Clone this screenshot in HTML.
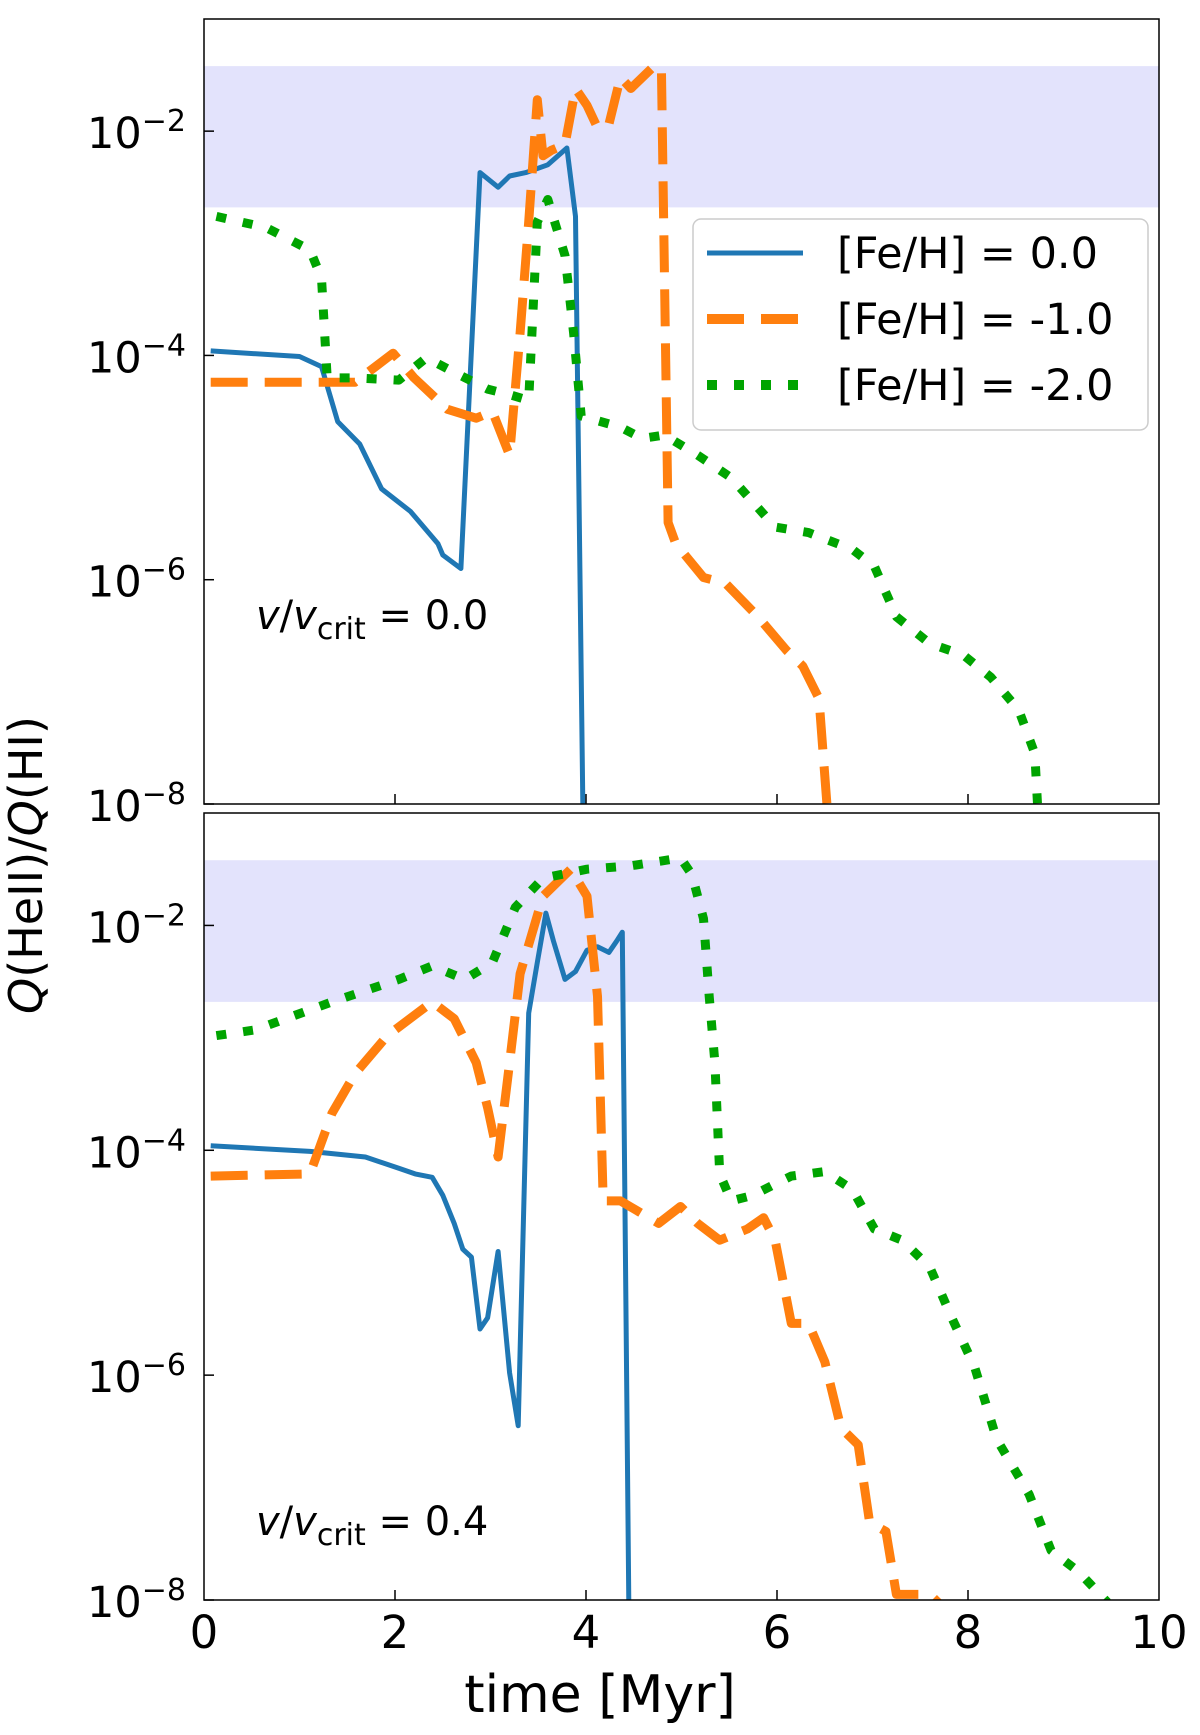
<!DOCTYPE html>
<html><head><meta charset="utf-8">
<style>
html,body{margin:0;padding:0;background:#fff;}
svg{display:block;font-family:"DejaVu Sans","Liberation Sans",sans-serif;}
</style></head>
<body>
<svg id="fig" width="1200" height="1735" viewBox="0 0 1200 1735" xmlns="http://www.w3.org/2000/svg"></svg>
<script>
// ---- data (values as log10 of Q(HeII)/Q(HI)) ----
const topBlueT = [0.07,1.0,1.23,1.4,1.63,1.86,2.16,2.45,2.5,2.69,2.89,3.08,3.2,3.37,3.6,3.8,3.89,3.97];
const topBlueL = [-3.96,-4.01,-4.10,-4.59,-4.79,-5.19,-5.39,-5.68,-5.78,-5.90,-2.37,-2.50,-2.40,-2.37,-2.30,-2.15,-2.76,-8.2];
const topOrangeT = [0.07,1.58,1.98,2.2,2.55,2.85,3.02,3.2,3.31,3.4,3.49,3.55,3.64,3.78,3.89,4.01,4.12,4.24,4.36,4.47,4.7,4.79,4.86,4.94,5.23,5.46,5.8,6.1,6.27,6.44,6.54];
const topOrangeL = [-4.24,-4.24,-3.98,-4.2,-4.48,-4.56,-4.5,-4.89,-3.8,-2.81,-1.72,-2.22,-2.17,-2.12,-1.62,-1.77,-1.97,-1.94,-1.52,-1.62,-1.43,-1.43,-5.49,-5.68,-5.98,-6.03,-6.33,-6.63,-6.77,-7.06,-8.2];
const topGreenT = [0.13,0.65,1.11,1.23,1.29,1.58,2.04,2.33,2.62,2.97,3.2,3.4,3.49,3.6,3.78,3.87,3.95,4.36,4.59,4.82,5.17,5.52,5.98,6.33,6.79,7.02,7.25,7.6,7.95,8.24,8.53,8.7,8.74];
const topGreenL = [-2.76,-2.86,-3.06,-3.31,-4.2,-4.2,-4.22,-4.02,-4.15,-4.3,-4.35,-4.4,-2.81,-2.61,-3.11,-3.8,-4.54,-4.64,-4.74,-4.71,-4.89,-5.09,-5.53,-5.58,-5.73,-5.88,-6.33,-6.57,-6.67,-6.87,-7.16,-7.55,-8.2];
const botBlueT = [0.07,1.11,1.69,2.04,2.21,2.39,2.5,2.62,2.71,2.8,2.89,2.97,3.08,3.2,3.29,3.4,3.49,3.58,3.66,3.78,3.89,4.01,4.12,4.24,4.32,4.38,4.45];
const botBlueL = [-3.96,-4.01,-4.06,-4.16,-4.21,-4.24,-4.4,-4.65,-4.88,-4.95,-5.59,-5.49,-4.9,-5.98,-6.45,-2.78,-2.33,-1.89,-2.14,-2.48,-2.41,-2.22,-2.19,-2.24,-2.14,-2.06,-8.2];
const botOrangeT = [0.07,1.11,1.34,1.58,1.92,2.39,2.62,2.85,2.97,3.08,3.2,3.31,3.55,3.84,4.01,4.12,4.18,4.36,4.76,4.99,5.17,5.4,5.69,5.86,5.98,6.15,6.33,6.5,6.67,6.85,6.97,7.14,7.25,7.6,7.72];
const botOrangeL = [-4.23,-4.21,-3.67,-3.32,-2.98,-2.68,-2.83,-3.22,-3.62,-4.06,-3.22,-2.43,-1.74,-1.5,-1.74,-2.63,-4.45,-4.45,-4.65,-4.5,-4.65,-4.8,-4.7,-4.6,-4.8,-5.54,-5.54,-5.88,-6.47,-6.62,-7.31,-7.39,-7.95,-7.95,-8.05];
const botGreenT = [0.13,0.53,1.34,2.04,2.39,2.73,3.02,3.26,3.55,4.01,4.47,4.99,5.11,5.23,5.29,5.35,5.4,5.52,5.75,5.98,6.15,6.5,6.79,7.02,7.31,7.6,7.83,8.07,8.3,8.64,8.87,9.16,9.46];
const botGreenL = [-2.98,-2.93,-2.68,-2.48,-2.36,-2.48,-2.33,-1.84,-1.58,-1.5,-1.47,-1.4,-1.55,-1.94,-2.63,-3.22,-4.21,-4.45,-4.4,-4.3,-4.23,-4.19,-4.35,-4.7,-4.8,-5.04,-5.49,-5.93,-6.57,-7.06,-7.56,-7.75,-8.02];
const xTicks = [0,2,4,6,8,10];
const yTickExps = [-2,-4,-6,-8];
const bandLo = -2.68, bandHi = -1.42;
const legendLabels = ["[Fe/H] = 0.0","[Fe/H] = -1.0","[Fe/H] = -2.0"];
const panelLabels = ["0.0","0.4"];

const NS="http://www.w3.org/2000/svg";
const svg=document.getElementById('fig');
function mk(tag,attrs,parent){const e=document.createElementNS(NS,tag);for(const k in attrs)e.setAttribute(k,attrs[k]);(parent||svg).appendChild(e);return e;}
const X0=204,X1=1159;
const xs=t=>X0+(t/10)*(X1-X0);
const panels=[{top:19,bot:804,lab:610},{top:813,bot:1600,lab:722}];
const ys=(p,l)=>p.bot-(l+8)/7*(p.bot-p.top);
const styles=[
 {c:'#1f77b4',w:5,d:''},
 {c:'#ff7f0e',w:9,d:'37 17'},
 {c:'#00a400',w:9,d:'10 17'}
];
const series=[[topBlueT,topBlueL,topOrangeT,topOrangeL,topGreenT,topGreenL],[botBlueT,botBlueL,botOrangeT,botOrangeL,botGreenT,botGreenL]];
const names=['fe-h-0','fe-h-minus1','fe-h-minus2'];
panels.forEach((p,pi)=>{
  const g=mk('g',{});
  
  
  const cid='clip'+pi;
  const cp=mk('clipPath',{id:cid},g);mk('rect',{x:X0,y:p.top,width:X1-X0,height:p.bot-p.top},cp);
  const band=mk('rect',{x:X0,y:ys(p,bandHi),width:X1-X0,height:ys(p,bandLo)-ys(p,bandHi),fill:'#e3e3fc'},g);
  
  
  for(let s=0;s<3;s++){
    const T=series[pi][2*s],L=series[pi][2*s+1];
    const d=T.map((t,i)=>(i?'L':'M')+xs(t).toFixed(1)+' '+ys(p,L[i]).toFixed(1)).join(' ');
    const path=mk('path',{d:d,fill:'none',stroke:styles[s].c,'stroke-width':styles[s].w,'stroke-dasharray':styles[s].d,'stroke-linejoin':'round','clip-path':'url(#'+cid+')'},g);
    
    
  }
  mk('rect',{x:X0,y:p.top,width:X1-X0,height:p.bot-p.top,fill:'none',stroke:'#000','stroke-width':1.5},g);
  xTicks.forEach(t=>{if(t>0&&t<10){const tk=mk('line',{x1:xs(t),x2:xs(t),y1:p.bot,y2:p.bot-10,stroke:'#000','stroke-width':1.5},g);
    
    }});
  yTickExps.forEach(e=>{const y=ys(p,e);
    mk('line',{x1:X0,x2:X0+10,y1:y,y2:y,stroke:'#000','stroke-width':1.5},g);
    const tx=mk('text',{x:186,y:y+17,'text-anchor':'end','font-size':43,fill:'#000'},g);
    
    
    const a=mk('tspan',{},tx);a.textContent='10';
    const b=mk('tspan',{dy:-17,'font-size':30},tx);b.textContent='\u2212'+(-e);
  });
  const lab=mk('text',{x:256,y:p.top+p.lab,'font-size':40,fill:'#000'},g);
  
  
  const s1=mk('tspan',{'font-style':'italic'},lab);s1.textContent='v';
  const s2=mk('tspan',{},lab);s2.textContent='/';
  const s3=mk('tspan',{'font-style':'italic'},lab);s3.textContent='v';
  const s4=mk('tspan',{dy:10,'font-size':30},lab);s4.textContent='crit';
  const s5=mk('tspan',{dy:-10},lab);s5.textContent=' = '+panelLabels[pi];
});
xTicks.forEach(t=>{const tx=mk('text',{x:xs(t),y:1648,'text-anchor':'middle','font-size':45,fill:'#000'});
  
  
  tx.textContent=t;});
const xl=mk('text',{x:600,y:1712,'text-anchor':'middle','font-size':52,fill:'#000'});


xl.textContent='time [Myr]';
const yl=mk('text',{x:0,y:0,'text-anchor':'middle','font-size':46,fill:'#000',transform:'translate(42,865) rotate(-90)'});


[['Q',1],['(HeII)/',0],['Q',1],['(HI)',0]].forEach(([s,it])=>{const ts=mk('tspan',it?{'font-style':'italic'}:{},yl);ts.textContent=s;});
const lg=mk('g',{});


mk('rect',{x:693,y:219,width:455,height:211,rx:8,fill:'#fff','fill-opacity':0.85,stroke:'#ccc','stroke-width':1.5},lg);
const ly=[253,319,385];
for(let s=0;s<3;s++){
  mk('line',{x1:707,x2:803,y1:ly[s],y2:ly[s],stroke:styles[s].c,'stroke-width':s?10:5,'stroke-dasharray':styles[s].d},lg);
  const t=mk('text',{x:837,y:ly[s]+15,'font-size':43,fill:'#000'},lg);
  
  
  t.textContent=legendLabels[s];
}
</script>
</body></html>
